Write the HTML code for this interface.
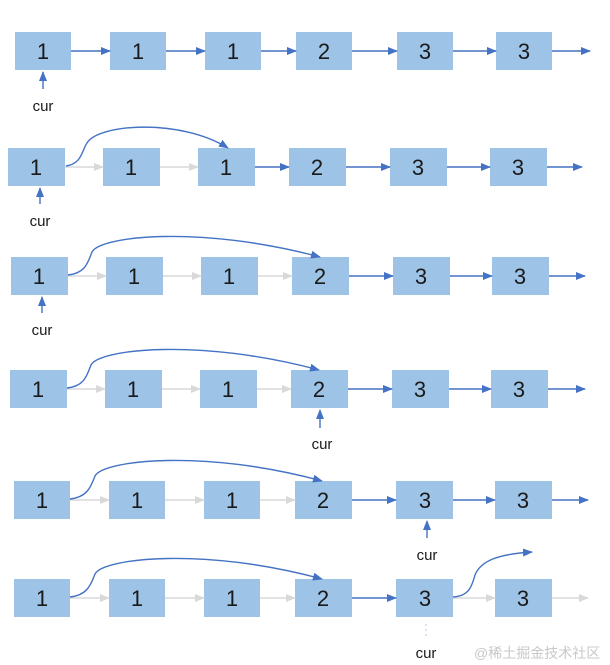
<!DOCTYPE html>
<html><head><meta charset="utf-8"><style>
html,body{margin:0;padding:0;background:#fff;}
svg{display:block;}
text{font-family:"Liberation Sans","Noto Sans CJK SC",sans-serif;}
.n{font-size:22px;fill:#1a1a1a;text-anchor:middle;}
.c{font-size:15px;fill:#1a1a1a;text-anchor:middle;}
rect{fill:#9dc3e6;}
.b{stroke:#4472c4;stroke-width:1.4;fill:none;marker-end:url(#ab);}
.g{stroke:#d9d9d9;stroke-width:1.4;fill:none;marker-end:url(#ag);}
</style></head><body>
<svg width="610" height="665" viewBox="0 0 610 665">
<defs>
<marker id="ab" markerWidth="10" markerHeight="8" refX="9" refY="4" orient="auto" markerUnits="userSpaceOnUse"><path d="M0,0 L10,4 L0,8 z" fill="#4472c4"/></marker>
<marker id="ag" markerWidth="10" markerHeight="8" refX="9" refY="4" orient="auto" markerUnits="userSpaceOnUse"><path d="M0,0 L10,4 L0,8 z" fill="#d9d9d9"/></marker>
</defs>

<!-- Row 1 -->
<rect x="15" y="32" width="56" height="38"/><text class="n" x="43" y="59">1</text>
<rect x="110" y="32" width="56" height="38"/><text class="n" x="138" y="59">1</text>
<rect x="205" y="32" width="56" height="38"/><text class="n" x="233" y="59">1</text>
<rect x="296" y="32" width="56" height="38"/><text class="n" x="324" y="59">2</text>
<rect x="397" y="32" width="56" height="38"/><text class="n" x="425" y="59">3</text>
<rect x="496" y="32" width="56" height="38"/><text class="n" x="524" y="59">3</text>
<line class="b" x1="71" y1="51" x2="110" y2="51"/>
<line class="b" x1="166" y1="51" x2="205" y2="51"/>
<line class="b" x1="261" y1="51" x2="296" y2="51"/>
<line class="b" x1="352" y1="51" x2="397" y2="51"/>
<line class="b" x1="453" y1="51" x2="496" y2="51"/>
<line class="b" x1="552" y1="51" x2="590" y2="51"/>
<line class="b" x1="43" y1="89" x2="43" y2="72"/>
<text class="c" x="43" y="111">cur</text>

<!-- Row 2 -->
<rect x="8" y="148" width="57" height="38"/><text class="n" x="36" y="175">1</text>
<rect x="103" y="148" width="57" height="38"/><text class="n" x="131" y="175">1</text>
<rect x="198" y="148" width="57" height="38"/><text class="n" x="226" y="175">1</text>
<rect x="289" y="148" width="57" height="38"/><text class="n" x="317" y="175">2</text>
<rect x="390" y="148" width="57" height="38"/><text class="n" x="418" y="175">3</text>
<rect x="490" y="148" width="57" height="38"/><text class="n" x="518" y="175">3</text>
<line class="g" x1="65" y1="167" x2="103" y2="167"/>
<line class="g" x1="160" y1="167" x2="198" y2="167"/>
<line class="b" x1="255" y1="167" x2="289" y2="167"/>
<line class="b" x1="346" y1="167" x2="390" y2="167"/>
<line class="b" x1="447" y1="167" x2="490" y2="167"/>
<line class="b" x1="547" y1="167" x2="582" y2="167"/>
<path class="b" d="M66,166 C82,164 82,150 87,143 C98,124 180,118 228,148"/>
<line class="b" x1="40" y1="204" x2="40" y2="188"/>
<text class="c" x="40" y="226">cur</text>

<!-- Row 3 -->
<rect x="11" y="257" width="57" height="38"/><text class="n" x="39" y="284">1</text>
<rect x="106" y="257" width="57" height="38"/><text class="n" x="134" y="284">1</text>
<rect x="201" y="257" width="57" height="38"/><text class="n" x="229" y="284">1</text>
<rect x="292" y="257" width="57" height="38"/><text class="n" x="320" y="284">2</text>
<rect x="393" y="257" width="57" height="38"/><text class="n" x="421" y="284">3</text>
<rect x="492" y="257" width="57" height="38"/><text class="n" x="520" y="284">3</text>
<line class="g" x1="68" y1="276" x2="106" y2="276"/>
<line class="g" x1="163" y1="276" x2="201" y2="276"/>
<line class="g" x1="258" y1="276" x2="292" y2="276"/>
<line class="b" x1="349" y1="276" x2="393" y2="276"/>
<line class="b" x1="450" y1="276" x2="492" y2="276"/>
<line class="b" x1="549" y1="276" x2="585" y2="276"/>
<path class="b" d="M68,275 C86,273 88,262 92,252 C100,236 200,225 320,257"/>
<line class="b" x1="42" y1="313" x2="42" y2="297"/>
<text class="c" x="42" y="335">cur</text>

<!-- Row 4 -->
<rect x="10" y="370" width="57" height="38"/><text class="n" x="38" y="397">1</text>
<rect x="105" y="370" width="57" height="38"/><text class="n" x="133" y="397">1</text>
<rect x="200" y="370" width="57" height="38"/><text class="n" x="228" y="397">1</text>
<rect x="291" y="370" width="57" height="38"/><text class="n" x="319" y="397">2</text>
<rect x="392" y="370" width="57" height="38"/><text class="n" x="420" y="397">3</text>
<rect x="491" y="370" width="57" height="38"/><text class="n" x="519" y="397">3</text>
<line class="g" x1="67" y1="389" x2="105" y2="389"/>
<line class="g" x1="162" y1="389" x2="200" y2="389"/>
<line class="g" x1="257" y1="389" x2="291" y2="389"/>
<line class="b" x1="348" y1="389" x2="392" y2="389"/>
<line class="b" x1="449" y1="389" x2="491" y2="389"/>
<line class="b" x1="548" y1="389" x2="585" y2="389"/>
<path class="b" d="M67,388 C85,386 87,375 91,365 C99,349 200,338 319,370"/>
<line class="b" x1="320" y1="428" x2="320" y2="410"/>
<text class="c" x="322" y="449">cur</text>

<!-- Row 5 -->
<rect x="14" y="481" width="56" height="38"/><text class="n" x="42" y="508">1</text>
<rect x="109" y="481" width="56" height="38"/><text class="n" x="137" y="508">1</text>
<rect x="204" y="481" width="56" height="38"/><text class="n" x="232" y="508">1</text>
<rect x="295" y="481" width="57" height="38"/><text class="n" x="323" y="508">2</text>
<rect x="396" y="481" width="57" height="38"/><text class="n" x="425" y="508">3</text>
<rect x="495" y="481" width="57" height="38"/><text class="n" x="523" y="508">3</text>
<line class="g" x1="70" y1="500" x2="109" y2="500"/>
<line class="g" x1="165" y1="500" x2="204" y2="500"/>
<line class="g" x1="260" y1="500" x2="295" y2="500"/>
<line class="b" x1="352" y1="500" x2="396" y2="500"/>
<line class="b" x1="453" y1="500" x2="495" y2="500"/>
<line class="b" x1="552" y1="500" x2="588" y2="500"/>
<path class="b" d="M70,499 C88,497 91,486 95,476 C103,460 205,449 322,481"/>
<line class="b" x1="427" y1="538" x2="427" y2="521"/>
<text class="c" x="427" y="560">cur</text>

<!-- Row 6 -->
<rect x="14" y="579" width="56" height="38"/><text class="n" x="42" y="606">1</text>
<rect x="109" y="579" width="56" height="38"/><text class="n" x="137" y="606">1</text>
<rect x="204" y="579" width="56" height="38"/><text class="n" x="232" y="606">1</text>
<rect x="295" y="579" width="57" height="38"/><text class="n" x="323" y="606">2</text>
<rect x="396" y="579" width="57" height="38"/><text class="n" x="425" y="606">3</text>
<rect x="495" y="579" width="57" height="38"/><text class="n" x="523" y="606">3</text>
<line class="g" x1="70" y1="598" x2="109" y2="598"/>
<line class="g" x1="165" y1="598" x2="204" y2="598"/>
<line class="g" x1="260" y1="598" x2="295" y2="598"/>
<line class="b" x1="352" y1="598" x2="396" y2="598"/>
<line class="g" x1="453" y1="598" x2="495" y2="598"/>
<line class="g" x1="552" y1="598" x2="588" y2="598"/>
<path class="b" d="M70,597 C88,595 91,584 95,574 C103,558 205,547 322,579"/>
<path class="b" d="M453,597 C470,596 472,585 475,575 C481,560 500,554 532,552"/>
<line x1="426" y1="636" x2="426" y2="622" stroke="#c5d3ec" stroke-width="1.2" stroke-dasharray="2,3"/>
<text class="c" x="426" y="658">cur</text>
<text x="474" y="658" style="font-size:14px;fill:#c8c8c8;font-family:'Liberation Sans','Noto Sans CJK SC',sans-serif;">@稀土掘金技术社区</text>
</svg>
</body></html>
